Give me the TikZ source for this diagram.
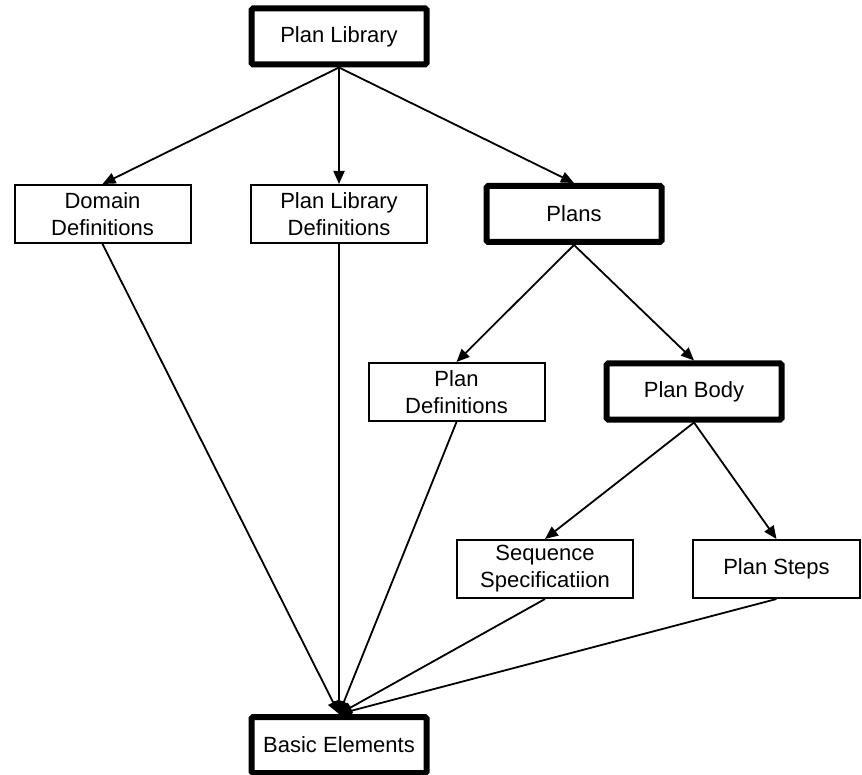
\documentclass[tikz,border=0pt]{standalone}
\usepackage{fontspec}
\setmainfont{Liberation Sans}
\usetikzlibrary{arrows.meta}
\begin{document}
\begin{tikzpicture}[x=1pt,y=-1pt,
  box/.style={draw, line width=2pt, minimum width=176pt, minimum height=58pt,
    inner sep=0pt, align=center, font=\fontsize{22}{27}\selectfont},
  heavybox/.style={box, line width=6pt, rounded corners=1.5pt, minimum width=175pt, minimum height=56pt},
  link/.style={line width=1.8pt, -{Triangle[length=13pt,width=11pt]}}]
\useasboundingbox (0,0) rectangle (862,775);

% component boxes
\node[heavybox] (lib)   at (339,36.5)   {Plan Library};
\node[box]      (dom)   at (102.5,214)  {Domain\\Definitions};
\node[box]      (libdef) at (339,214)   {Plan Library\\Definitions};
\node[heavybox] (plans) at (574,214)    {Plans};
\node[box]      (pdef)  at (456.5,392)  {Plan\\Definitions};
\node[heavybox] (body)  at (694,391.5)  {Plan Body};
\node[box]      (seq)   at (545,569)    {Sequence\\Specificatiion};
\node[box, minimum width=167pt] (steps) at (776.5,569) {Plan Steps};
\node[heavybox] (basic) at (339,745)    {Basic Elements};

% containment links
\draw[link] (lib.south) -- (dom.north);
\draw[link] (lib.south) -- (libdef.north);
\draw[link] (lib.south) -- (plans.north);
\draw[link] (plans.south) -- (pdef.north);
\draw[link] (plans.south) -- (body.north);
\draw[link] (body.south) -- (seq.north);
\draw[link] (body.south) -- (steps.north);

% everything refers to the basic elements
\draw[link] (dom.south) -- (basic.north);
\draw[link] (libdef.south) -- (basic.north);
\draw[link] (pdef.south) -- (basic.north);
\draw[link] (seq.south) -- (basic.north);
\draw[link] (steps.south) -- (basic.north);
\end{tikzpicture}
\end{document}
